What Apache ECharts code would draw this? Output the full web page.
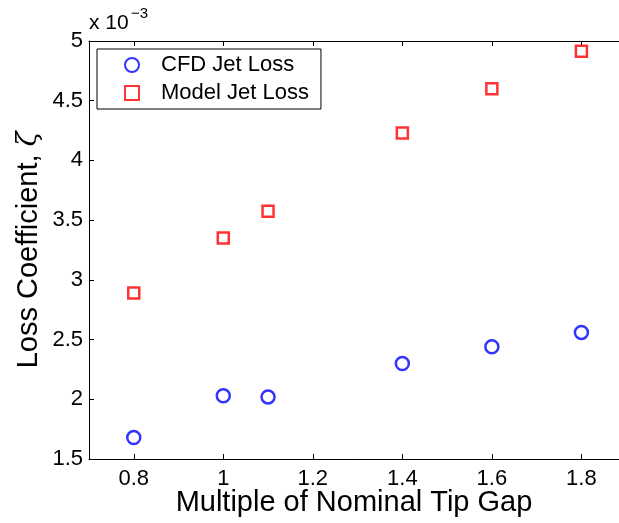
<!DOCTYPE html>
<html>
<head>
<meta charset="utf-8">
<script src="https://cdn.jsdelivr.net/npm/echarts@6/dist/echarts.min.js"></script>
<style>
  html, body { margin: 0; padding: 0; background: #fff; }
  #chart { width: 619px; height: 523px; }
</style>
</head>
<body>
<div id="chart"></div>
<script>
// Tip gap multiples (x) and loss coefficients, in units of 1e-3
const gapMultiple = [0.8, 1.0, 1.1, 1.4, 1.6, 1.8];
const cfdJetLoss = [1.68, 2.03, 2.02, 2.30, 2.44, 2.56];
const modelJetLoss = [2.89, 3.35, 3.575, 4.23, 4.60, 4.915];
const xTicks = [0.8, 1.0, 1.2, 1.4, 1.6, 1.8];
const seriesNames = ['CFD Jet Loss', 'Model Jet Loss'];

const FONT = '"Liberation Sans", Arial, Helvetica, sans-serif';

const pairs = (xs, ys) => xs.map((x, i) => [x, ys[i]]);

const chart = echarts.init(document.getElementById('chart'), null, { renderer: 'canvas' });

const xCommon = {
  type: 'value',
  min: 0.7,
  max: 1.884,
  splitLine: { show: false },
  axisLine: { show: true, onZero: false, lineStyle: { color: '#000', width: 1 } },
  axisTick: { show: true, inside: true, length: 5, customValues: xTicks, lineStyle: { color: '#000' } }
};

chart.setOption({
  animation: false,
  backgroundColor: '#fff',
  grid: { left: 89, top: 41, right: 0, bottom: 64, containLabel: false, outerBoundsMode: 'none' },
  xAxis: [
    Object.assign({}, xCommon, {
      position: 'bottom',
      name: 'Multiple of Nominal Tip Gap',
      nameLocation: 'middle',
      nameGap: 29,
      nameMoveOverlap: false,
      nameTextStyle: { fontFamily: FONT, fontSize: 29, color: '#000' },
      axisLabel: {
        show: true, customValues: xTicks, margin: 9,
        fontFamily: FONT, fontSize: 22, color: '#000',
        formatter: v => (Math.round(v * 10) / 10).toString()
      }
    }),
    Object.assign({}, xCommon, {
      position: 'top',
      axisLabel: { show: false }
    })
  ],
  yAxis: [{
    type: 'value',
    min: 1.5,
    max: 5,
    interval: 0.5,
    position: 'left',
    splitLine: { show: false },
    axisLine: { show: true, onZero: false, lineStyle: { color: '#000', width: 1 } },
    axisTick: { show: true, inside: true, length: 5, lineStyle: { color: '#000' } },
    axisLabel: {
      margin: 6, fontFamily: FONT, fontSize: 22, color: '#000',
      formatter: v => (Math.round(v * 10) / 10).toString()
    },
    name: '{a|Loss Coefficient, }{z|ζ}',
    nameLocation: 'middle',
    nameGap: 46,
    nameRotate: 90,
    nameMoveOverlap: false,
    nameTextStyle: {
      rich: {
        a: { fontFamily: FONT, fontSize: 29, color: '#000' },
        z: { fontFamily: '"DejaVu Serif", serif', fontStyle: 'italic', fontSize: 27, color: '#000' }
      }
    }
  }],
  legend: {
    orient: 'vertical',
    left: 97,
    top: 49,
    padding: [5, 12, 5, 27],
    itemGap: 6,
    itemWidth: 14,
    itemHeight: 14,
    borderColor: '#000',
    borderWidth: 1,
    backgroundColor: '#fff',
    textStyle: { fontFamily: FONT, fontSize: 22, color: '#000', padding: [0, 0, 0, 17] },
    data: seriesNames
  },
  graphic: [
    {
      type: 'text', left: 89, top: 13,
      style: { text: 'x 10', fontFamily: FONT, fontSize: 21, fill: '#000' }
    },
    {
      type: 'text', left: 131, top: 6,
      style: { text: '\u22123', fontFamily: FONT, fontSize: 15, fill: '#000' }
    }
  ],
  series: [
    {
      name: seriesNames[0],
      type: 'scatter',
      symbol: 'circle',
      symbolSize: 13,
      itemStyle: { color: 'rgba(255,255,255,0)', borderColor: '#0000ff', borderWidth: 2.5 },
      data: pairs(gapMultiple, cfdJetLoss)
    },
    {
      name: seriesNames[1],
      type: 'scatter',
      symbol: 'rect',
      symbolSize: 11,
      itemStyle: { color: 'rgba(255,255,255,0)', borderColor: '#ff0000', borderWidth: 2.5 },
      data: pairs(gapMultiple, modelJetLoss)
    }
  ]
});
</script>
</body>
</html>
